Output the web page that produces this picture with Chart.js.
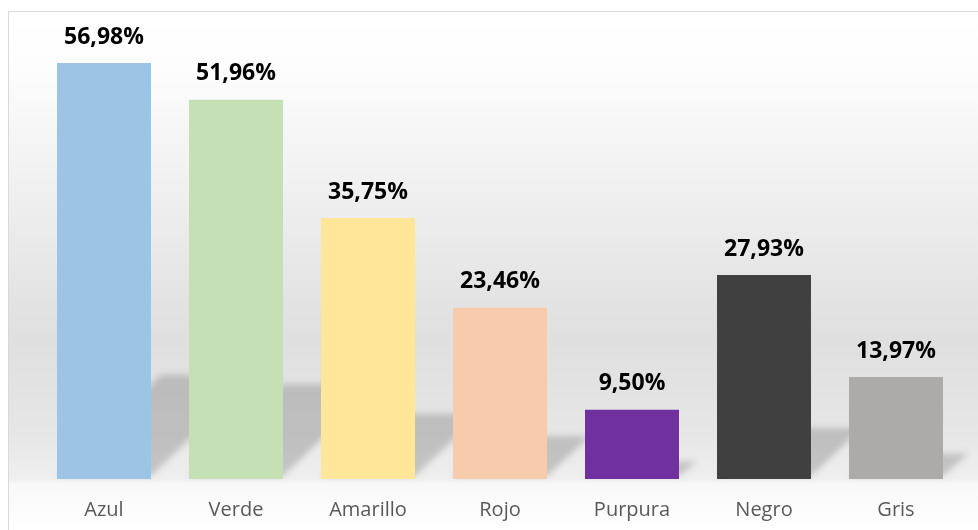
<!DOCTYPE html>
<html>
<head>
<meta charset="utf-8">
<script src="https://cdn.jsdelivr.net/npm/chart.js@4.4.0/dist/chart.umd.min.js"></script>
<style>
  html, body { margin: 0; padding: 0; background: #ffffff; }
  #wrap { width: 978px; height: 530px; position: relative; }
</style>
</head>
<body>
<div id="wrap"><canvas id="graphColores"></canvas></div>
<script>
// Colores - porcentajes
var tab_Colores = ['Azul', 'Verde', 'Amarillo', 'Rojo', 'Purpura', 'Negro', 'Gris'];
var tab_Valores = [56.98, 51.96, 35.75, 23.46, 9.50, 27.93, 13.97];
var tab_Fondo = ['#9DC3E6', '#C5E0B4', '#FFE699', '#F8CBAD', '#7030A0', '#404040', '#AEAAAA'];

//Fondo degradado + borde
var fondoPlugin = {
    id: 'fondo',
    beforeDraw: function (chart) {
        var ctx = chart.ctx;
        var area = chart.chartArea;
        var h = chart.height;
        ctx.save();
        var grad = ctx.createLinearGradient(0, 12, 0, h);
        var piso = (area.bottom - 12) / (h - 12);
        grad.addColorStop(0, '#ffffff');
        grad.addColorStop(piso * 0.12, '#fdfdfd');
        grad.addColorStop(piso * 0.7, '#dfdfdf');
        grad.addColorStop(piso * 0.9, '#e6e6e6');
        grad.addColorStop(piso, '#efefef');
        grad.addColorStop(Math.min(piso + 0.01, 1), '#f8f8f8');
        grad.addColorStop(1, '#ffffff');
        ctx.fillStyle = grad;
        ctx.fillRect(9, 12, chart.width, h);
        ctx.strokeStyle = '#d9d9d9';
        ctx.lineWidth = 1;
        ctx.strokeRect(8.5, 11.5, chart.width + 10, h + 10);
        ctx.restore();
    }
};

//Sombras en perspectiva detras de las barras
var sombraPlugin = {
    id: 'sombra',
    beforeDatasetsDraw: function (chart) {
        var ctx = chart.ctx;
        var meta = chart.getDatasetMeta(0);
        ctx.save();
        ctx.filter = 'blur(3px)';
        ctx.fillStyle = 'rgba(100,100,100,0.3)';
        meta.data.forEach(function (bar) {
            var p = bar.getProps(['x', 'y', 'base', 'width'], true);
            var left = p.x - p.width / 2;
            var right = p.x + p.width / 2;
            var sh = (p.base - p.y) * 0.25;
            ctx.beginPath();
            ctx.moveTo(left, p.base - 3);
            ctx.lineTo(right, p.base - 3);
            ctx.lineTo(right + sh, p.base - sh);
            ctx.lineTo(left + sh, p.base - sh);
            ctx.closePath();
            ctx.fill();
        });
        ctx.restore();
    }
};

//Etiquetas encima de las barras
var etiquetasPlugin = {
    id: 'etiquetas',
    afterDatasetsDraw: function (chart) {
        var ctx = chart.ctx;
        var meta = chart.getDatasetMeta(0);
        ctx.save();
        ctx.font = 'bold 23px "Open Sans"';
        ctx.fillStyle = '#000000';
        ctx.textAlign = 'center';
        ctx.textBaseline = 'middle';
        meta.data.forEach(function (bar, i) {
            var txt = tab_Valores[i].toFixed(2).replace('.', ',') + '%';
            ctx.fillText(txt, bar.x, bar.y - 26);
        });
        ctx.restore();
    }
};

var ctx = document.getElementById('graphColores').getContext('2d');
var chart = new Chart(ctx, {
    type: 'bar',
    data: {
        labels: tab_Colores,
        datasets: [{
            data: tab_Valores,
            backgroundColor: tab_Fondo,
            borderWidth: 0,
            barPercentage: 0.712,
            categoryPercentage: 1.0,
            label: 'Colores'
        }]
    },
    options: {
        responsive: true,
        maintainAspectRatio: false,
        animation: false,
        layout: {
            padding: { left: 38, right: 16, top: 41, bottom: 0 }
        },
        plugins: {
            legend: { display: false },
            tooltip: { enabled: false }
        },
        scales: {
            x: {
                grid: { display: false, drawTicks: false },
                border: { display: false },
                afterFit: function (scale) { scale.height = 51; },
                ticks: {
                    color: '#595959',
                    padding: 19,
                    font: { family: 'Open Sans', size: 20 }
                }
            },
            y: {
                display: false,
                min: 0,
                max: 60
            }
        }
    },
    plugins: [fondoPlugin, sombraPlugin, etiquetasPlugin]
});
</script>
</body>
</html>
